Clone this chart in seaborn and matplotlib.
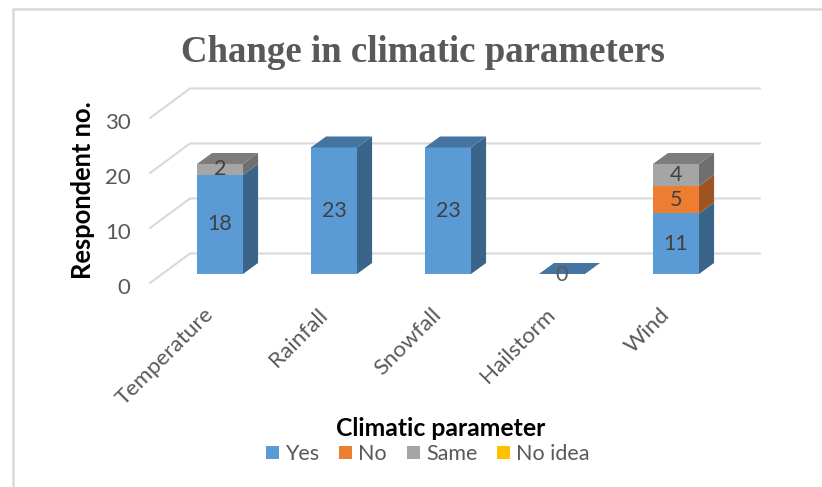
import matplotlib
matplotlib.use("Agg")
import matplotlib.pyplot as plt
from matplotlib.lines import Line2D
from matplotlib.patches import Polygon
from matplotlib.transforms import ScaledTranslation
import numpy as np
import seaborn as sns

categories = ["Temperature", "Rainfall", "Snowfall", "Hailstorm", "Wind"]
series_names = ["Yes", "No", "Same", "No idea"]
yes_counts = [18, 23, 23, 0, 11]
no_counts = [0, 0, 0, 0, 5]
same_counts = [2, 0, 0, 0, 4]
no_idea_counts = [0, 0, 0, 0, 0]
y_tick_values = [0, 10, 20, 30]

front_colors = ["#5B9BD5", "#ED7D31", "#A5A5A5", "#FFC000"]
side_colors = ["#3A6489", "#9E5320", "#6F6F6F", "#A88000"]
top_colors = ["#44749F", "#B25E25", "#7C7C7C", "#BF9000"]

W, H = 822, 487
BAR_WIDTH = 0.404
BAR_DX, BAR_DY = 0.132, 2.0      # depth of each 3-D column
WALL_DX, WALL_DY = 0.351, 5.37   # depth of the floor and back wall
FLOOR_Y = -1.64

sns.set_theme(style="white")
plt.rcParams["font.family"] = ["Lato", "DejaVu Sans"]

fig = plt.figure(figsize=(W / 100, H / 100), dpi=100, facecolor="white")
ax = fig.add_axes([150 / W, 1 - 283 / H, 610 / W, 195 / H])
ax.patch.set_alpha(0)

series = [yes_counts, no_counts, same_counts, no_idea_counts]
running = np.zeros(len(categories))
for name, values, color in zip(series_names, series, front_colors):
    sns.barplot(x=categories, y=values, bottom=running, width=BAR_WIDTH, color=color,
                saturation=1, label=name, ax=ax, zorder=3, linewidth=0)
    running = running + np.array(values)

xlim = (-0.614, 4.737)
ax.set_xlim(xlim)
ax.set_ylim(FLOOR_Y, FLOOR_Y + 195 / 5.5)

# Perspective faces of every stacked segment
half = BAR_WIDTH / 2
for i in range(len(categories)):
    base = 0
    top_index = 0
    for s, values in enumerate(series):
        v = values[i]
        if v > 0:
            right = i + half
            ax.add_patch(Polygon(
                [(right, base), (right + BAR_DX, base + BAR_DY),
                 (right + BAR_DX, base + v + BAR_DY), (right, base + v)],
                closed=True, facecolor=side_colors[s], edgecolor="none", zorder=3))
            top_index = s
            base += v
    ax.add_patch(Polygon(
        [(i - half, base), (i + half, base),
         (i + half + BAR_DX, base + BAR_DY), (i - half + BAR_DX, base + BAR_DY)],
        closed=True, facecolor=top_colors[top_index], edgecolor="none", zorder=3))

# Value labels centred on the segments
label_color = "#404040"
for i in range(len(categories)):
    base = 0
    for values in series:
        v = values[i]
        if v > 0:
            ax.text(i, base + v / 2, str(v), ha="center", va="center",
                    fontsize=15.5, color=label_color, zorder=5)
            base += v
ax.annotate(str(yes_counts[3]), (3, 0), xytext=(0, -1), textcoords="offset points",
            ha="center", va="center", fontsize=15.5, color="#595959", zorder=5)

# Back wall gridlines and their slanted floor-side returns
grid_color = "#D9D9D9"
for v in y_tick_values:
    front_y = v + FLOOR_Y
    back_y = front_y + WALL_DY
    ax.plot([xlim[0], xlim[0] + WALL_DX, xlim[1]], [front_y, back_y, back_y],
            color=grid_color, lw=1.5, zorder=1, clip_on=False, solid_joinstyle="miter")

ax.set_yticks([v + FLOOR_Y for v in y_tick_values], [str(v) for v in y_tick_values])
ax.tick_params(axis="y", length=0, pad=14, labelsize=16, labelcolor="#595959")
ax.tick_params(axis="x", length=0, pad=15.5, labelsize=16.2, labelcolor="#595959")
for tick in ax.get_yticklabels():
    tick.set_transform(tick.get_transform() + ScaledTranslation(0, -2 / 72, fig.dpi_scale_trans))
for tick in ax.get_xticklabels():
    tick.set_rotation(45)
    tick.set_ha("right")
    tick.set_rotation_mode("anchor")
    tick.set_transform(tick.get_transform() + ScaledTranslation(-12 / 72, 0, fig.dpi_scale_trans))
sns.despine(ax=ax, left=True, bottom=True)

ax.set_xlabel("")
ax.set_ylabel("")
fig.text(83 / W, 1 - 190 / H, "Respondent no.", rotation=90, ha="center", va="center",
         fontsize=18.4, fontweight="bold", color="black")
fig.text(441 / W, 1 - 428 / H, "Climatic parameter", ha="center", va="center",
         fontsize=17.8, fontweight="bold", color="black")
fig.text(423 / W, 1 - 53 / H, "Change in climatic parameters", ha="center", va="center",
         fontsize=26.6, fontweight="bold", color="#595959", family="Liberation Serif")

handles, labels = ax.get_legend_handles_labels()
fig.legend(handles, labels, loc="center", bbox_to_anchor=(428 / W, 1 - 454 / H), ncol=4,
           frameon=False, fontsize=15.5, labelcolor="#595959", handlelength=0.6,
           handleheight=0.6, handletextpad=0.28, columnspacing=0.93, borderpad=0)
if ax.get_legend():
    ax.get_legend().remove()

# Chart frame: only the top and left edges are visible
frame = "#D9D9D9"
fig.add_artist(Line2D([12.5 / W, 12.5 / W, 1], [0, 1 - 8.5 / H, 1 - 8.5 / H],
                      color=frame, lw=1.8, solid_joinstyle="miter"))

fig.savefig("out.png", dpi=100, facecolor="white")
